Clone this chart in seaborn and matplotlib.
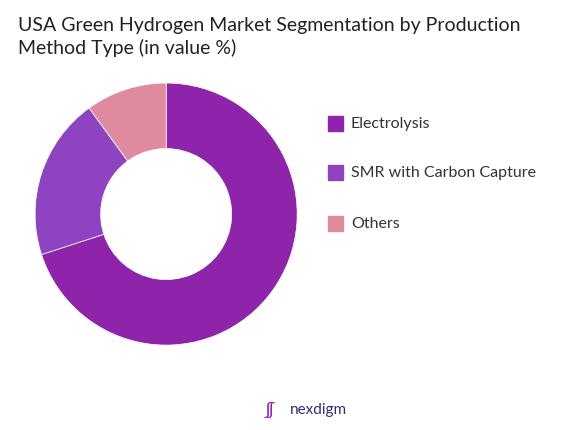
import matplotlib
matplotlib.use("Agg")
import matplotlib.pyplot as plt
import seaborn as sns

labels = ["Electrolysis", "SMR with Carbon Capture", "Others"]
values = [70, 20, 10]
colors = ["#8E24AA", "#8E44C0", "#E08AA0"]

sns.set_theme(style="white")
plt.rcParams["font.family"] = ["Lato", "DejaVu Sans"]

fig = plt.figure(figsize=(5.85, 4.31), dpi=100)
ax = fig.add_axes([0.060, 0.197, 0.448, 0.608])
ax.pie(values, colors=colors, startangle=90, counterclock=False, radius=1.0,
       wedgeprops=dict(width=0.5, edgecolor="white", linewidth=0.5))
ax.set_xlim(-1, 1)
ax.set_ylim(-1, 1)
ax.set_aspect("equal")

fig.text(0.031, 0.96, "USA Green Hydrogen Market Segmentation by Production\nMethod Type (in value %)",
         fontsize=14, va="top", ha="left", color="#222222", linespacing=1.3)

ys = [124, 173, 224]
for lab, col, y in zip(labels, colors, ys):
    yf = 1 - y / 431
    fig.patches.append(plt.Rectangle((328 / 585, yf - 0.018), 15 / 585, 15 / 431,
                                     transform=fig.transFigure, color=col))
    fig.text(351 / 585, yf, lab, fontsize=11.5, va="center", ha="left", color="#333333")

fig.text(290 / 585, 1 - 410 / 431, "nexdigm", fontsize=11, ha="left", va="center", color="#3a2a6a")
fig.text(270 / 585, 1 - 410 / 431, "ʃʃ", fontsize=13, ha="center", va="center", color="#8E24AA")

fig.savefig("out.png", dpi=100)
